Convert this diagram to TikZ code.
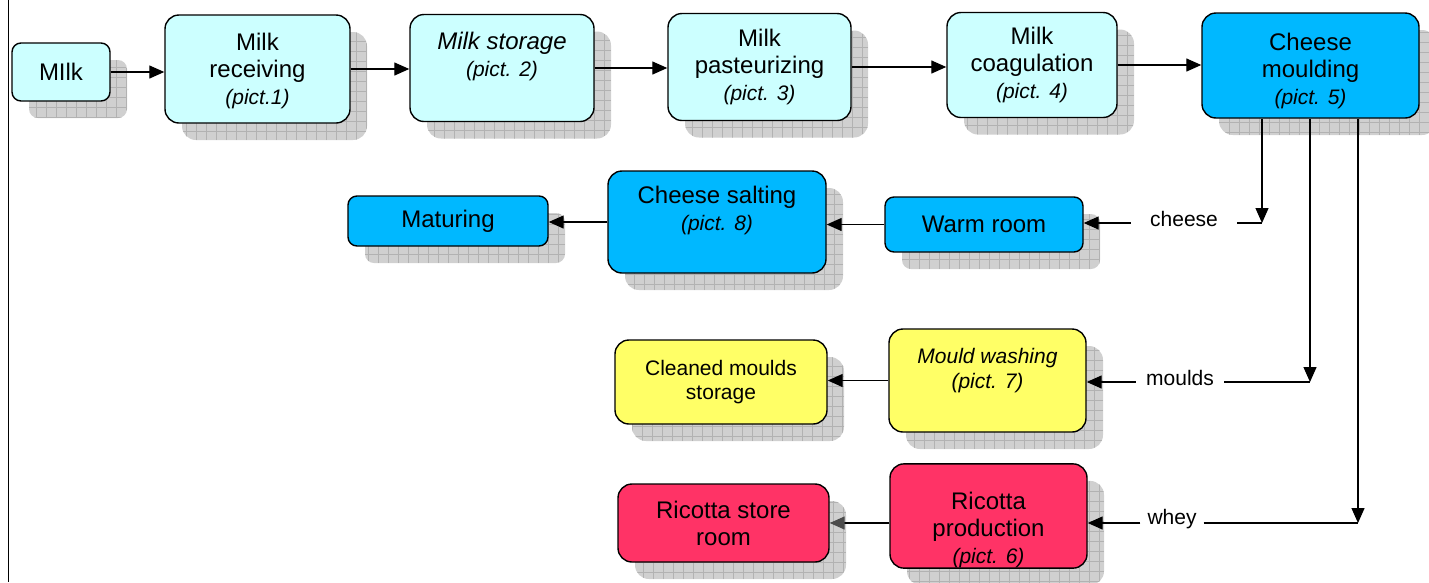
\documentclass[tikz,border=0pt]{standalone}
\usepackage{fontspec}
\setmainfont{Liberation Sans}
\usetikzlibrary{arrows.meta, shadows}
\definecolor{milkcyan}{RGB}{204,255,255}
\definecolor{cheeseblue}{RGB}{0,184,255}
\definecolor{mouldyellow}{RGB}{255,255,102}
\definecolor{ricottared}{RGB}{255,51,102}
\definecolor{shadowgray}{RGB}{208,208,208}
\definecolor{gridgray}{RGB}{178,178,178}
\newcommand{\pictno}[1]{{\fontsize{21}{27}\selectfont\itshape #1}}

\begin{document}
\begin{tikzpicture}[x=1pt, y=-1pt,
  procbox/.style={draw, line width=1.4pt, rounded corners=14pt, inner sep=0pt, align=center,
    font=\fontsize{24}{27}\selectfont,
    drop shadow={shadow xshift=17pt, shadow yshift=-17pt, opacity=1, fill=shadowgray,
      path picture={\draw[gridgray, line width=0.5pt, step=10pt] (path picture bounding box.south west) grid (path picture bounding box.north east);}}},
  smallbox/.style={procbox, rounded corners=9pt},
  arr/.style={-{Triangle[length=15pt,width=13pt]}, line width=1.3pt},
  flowlabel/.style={font=\fontsize{21}{25}\selectfont, inner ysep=2pt}]
\useasboundingbox (0,0) rectangle (1429,582);
\draw[line width=1pt] (8,0) -- (8,582);

\node[smallbox, fill=milkcyan, minimum width=98, minimum height=58] (milk) at (61,72) {MIlk};
\node[procbox, fill=milkcyan, minimum width=185, minimum height=108] (recv) at (257.5,69) {\rule{0pt}{21pt}Milk\\receiving\\\pictno{(pict.1)}};
\node[procbox, fill=milkcyan, minimum width=184, minimum height=107] (stor) at (502,68) {\itshape Milk storage\\\pictno{(pict. 2)}\\\mbox{}};
\node[procbox, fill=milkcyan, minimum width=183, minimum height=107] (past) at (759.5,67) {Milk\\pasteurizing\\\pictno{(pict. 3)}};
\node[procbox, fill=milkcyan, minimum width=170, minimum height=105] (coag) at (1032,65) {Milk\\coagulation\\\pictno{(pict. 4)}};
\node[procbox, fill=cheeseblue, minimum width=217, minimum height=105] (mould) at (1310.5,65.5) {\rule{0pt}{29pt}Cheese\\moulding\\\pictno{(pict. 5)}};

\node[smallbox, fill=cheeseblue, minimum width=200, minimum height=50] (matur) at (448,221) {Maturing};
\node[procbox, fill=cheeseblue, minimum width=218, minimum height=102] (salt) at (717,222) {Cheese salting\\\pictno{(pict. 8)}\\\mbox{}};
\node[smallbox, fill=cheeseblue, minimum width=198, minimum height=55] (warm) at (984,224.5) {Warm room};

\node[procbox, fill=mouldyellow, minimum width=212, minimum height=84, font=\fontsize{21}{24}\selectfont] (clean) at (721,382) {Cleaned moulds\\storage};
\node[procbox, fill=mouldyellow, minimum width=197, minimum height=103, font=\fontsize{21}{25}\selectfont\itshape] (wash) at (987.5,380.5) {Mould washing\\(pict. 7)\\\mbox{}};

\node[procbox, fill=ricottared, minimum width=211, minimum height=78] (rstore) at (723.5,523) {Ricotta store\\room};
\node[procbox, fill=ricottared, minimum width=197, minimum height=88] (rprod) at (988.5,516) {\strut\\Ricotta\\production\\\pictno{(pict. 6)}};

\node[flowlabel, inner xsep=19pt] (cheese) at (1184,219) {cheese};
\node[flowlabel, inner xsep=10pt] (moulds) at (1180,378) {moulds};
\node[flowlabel, inner xsep=7pt] (whey) at (1172,519) {whey};
\coordinate (cturn) at (1262,223);
\coordinate (mturn) at (1310,382);
\coordinate (wturn) at (1358,523);

\draw[arr] (milk.east) -- (milk.east -| recv.west);
\draw[arr] (recv.east) -- (recv.east -| stor.west);
\draw[arr] (stor.east) -- (stor.east -| past.west);
\draw[arr] (past.east) -- (past.east -| coag.west);
\draw[arr] (coag.east) -- (coag.east -| mould.west);

\draw[arr] (mould.south -| cturn) -- (cturn);
\draw[line width=1.3pt] (cheese.east |- cturn) -- (cturn);
\draw[arr] (cheese.west |- cturn) -- (cturn -| warm.east);
\draw[arr] (mould.south -| mturn) -- (mturn);
\draw[line width=1.3pt] (moulds.east |- mturn) -- (mturn);
\draw[arr] (moulds.west |- mturn) -- (mturn -| wash.east);
\draw[arr] (mould.south -| wturn) -- (wturn);
\draw[line width=1.3pt] (whey.east |- wturn) -- (wturn);
\draw[arr] (whey.west |- wturn) -- (wturn -| rprod.east);

\draw[arr] (warm.west) -- (warm.west -| salt.east);
\draw[arr] (salt.west) -- (salt.west -| matur.east);
\draw[arr] (wash.west) -- (wash.west -| clean.east);
\draw[line width=1.3pt, -{Triangle[length=15pt,width=13pt,color=black!70]}] (rprod.west |- rstore) -- (rstore.east);
\end{tikzpicture}
\end{document}
